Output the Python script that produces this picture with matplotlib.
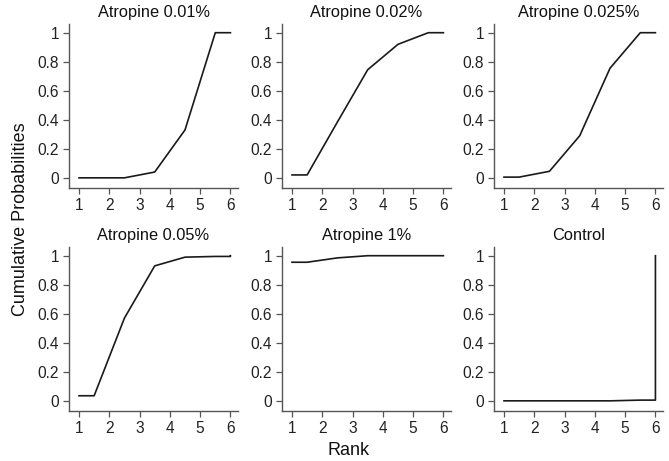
import matplotlib
matplotlib.use("Agg")
import matplotlib.pyplot as plt

plt.rcParams['font.family'] = ['Liberation Sans', 'DejaVu Sans']

titles = ["Atropine 0.01%", "Atropine 0.02%", "Atropine 0.025%",
          "Atropine 0.05%", "Atropine 1%", "Control"]
# cumulative probabilities for ranks 1..6
cum_001 = [0.0, 0.0, 0.04, 0.33, 1.0, 1.0]
cum_002 = [0.02, 0.385, 0.745, 0.92, 1.0, 1.0]
cum_0025 = [0.005, 0.045, 0.29, 0.755, 1.0, 1.0]
cum_005 = [0.035, 0.57, 0.93, 0.99, 0.995, 1.0]
cum_1 = [0.955, 0.985, 1.0, 1.0, 1.0, 1.0]
cum_ctrl = [0.0, 0.0, 0.0, 0.0, 0.005, 1.0]
series = [cum_001, cum_002, cum_0025, cum_005, cum_1, cum_ctrl]
ranks = [1, 2, 3, 4, 5, 6]
yticks = [0, 0.2, 0.4, 0.6, 0.8, 1]
ytick_labels = ["0", "0.2", "0.4", "0.6", "0.8", "1"]

W, H = 669, 461
fig = plt.figure(figsize=(W / 100, H / 100), dpi=100)

lefts = [69, 282, 494]
aw = 169
tops = [24, 247]
ah = 164

for i, (t, c) in enumerate(zip(titles, series)):
    r, col = divmod(i, 3)
    l = lefts[col]
    top = tops[r]
    ax = fig.add_axes([l / W, 1 - (top + ah) / H, aw / W, ah / H])
    # line: first rank held until 1.5, mid-points k+0.5, last held to 6
    xs = [1, 1.5] + [k + 0.5 for k in ranks[1:5]] + [6, 6]
    ys = [c[0], c[0]] + c[1:5] + [c[4], c[5]]
    ax.plot(xs, ys, color='#1a1a1a', lw=1.2)
    ax.set_xlim(0.67, 6.25)
    ax.set_ylim(-0.07, 1.06)
    ax.set_xticks(ranks)
    ax.set_yticks(yticks)
    ax.set_yticklabels(ytick_labels)
    for s in ['top', 'right']:
        ax.spines[s].set_visible(False)
    for s in ['left', 'bottom']:
        ax.spines[s].set_color('#555555')
        ax.spines[s].set_linewidth(1.0)
    ax.tick_params(colors='#555555', labelcolor='#222222', labelsize=11.2,
                   length=4, width=0.9, pad=3)
    ax.set_title(t, fontsize=11.8, color='#111111', pad=5)

fig.text(349 / W, 1 - 450 / H, "Rank", ha='center', va='center',
         fontsize=13, color='#111111')
fig.text(21 / W, 1 - 219 / H, "Cumulative Probabilities", ha='center',
         va='center', rotation=90, fontsize=13, color='#111111')

fig.savefig("out.png", dpi=100)
